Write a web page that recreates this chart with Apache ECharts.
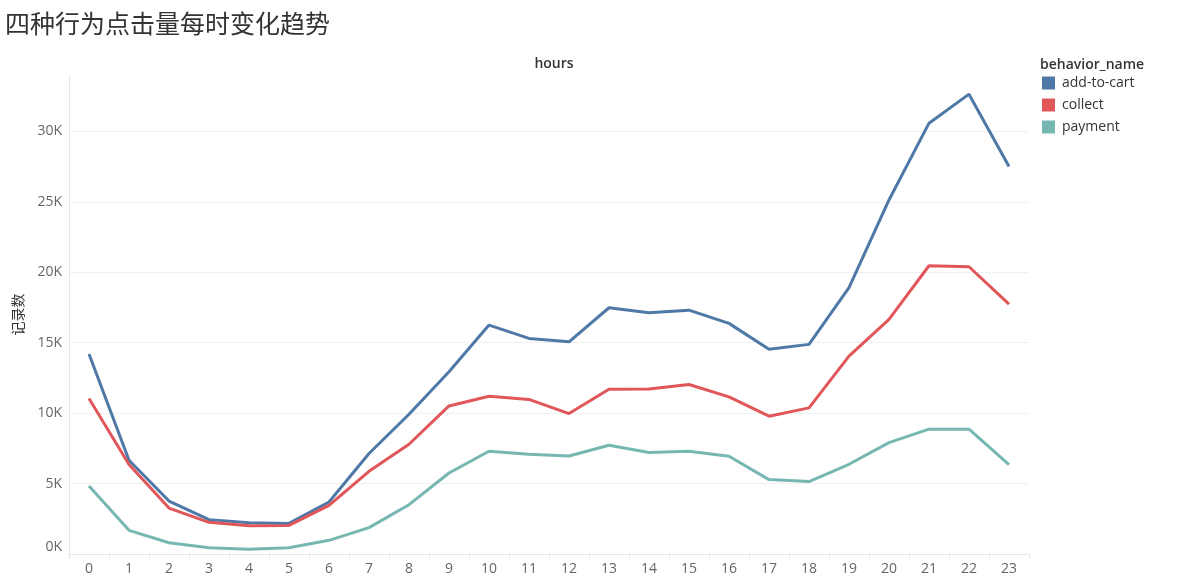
<!DOCTYPE html>
<html>
<head>
<meta charset="utf-8">
<script src="https://cdn.jsdelivr.net/npm/echarts@6/dist/echarts.min.js"></script>
<style>
html,body{margin:0;padding:0;background:#fff;}
#chart{width:1179px;height:579px;}
</style>
</head>
<body>
<div id="chart"></div>
<script>
const hours = ['0','1','2','3','4','5','6','7','8','9','10','11','12','13','14','15','16','17','18','19','20','21','22','23'];
const seriesNames = ['add-to-cart','collect','payment'];
const addToCart = [14190,6650,3760,2440,2220,2170,3690,7130,9920,12930,16250,15300,15060,17480,17120,17310,16370,14540,14880,18900,25130,30580,32640,27500];
const collect = [11040,6350,3260,2250,2010,2030,3450,5870,7790,10510,11200,10970,9970,11700,11720,12030,11150,9780,10370,14040,16650,20460,20390,17740];
const payment = [4830,1680,800,450,330,450,970,1870,3500,5750,7290,7080,6960,7720,7200,7290,6940,5280,5140,6370,7910,8860,8860,6350];
const colors = ['#4e79a7','#e15759','#76b7b2'];
const titleText = '四种行为点击量每时变化趋势';
const xName = 'hours';
const yName = '记录数';
const legendTitle = 'behavior_name';

const chart = echarts.init(document.getElementById('chart'));
const numFont = '"Open Sans", "Noto Sans", sans-serif';
const mk = (name, data, color) => ({
  name: name, type: 'line', data: data, symbol: 'none', smooth: false,
  lineStyle: {width: 3, color: color}, itemStyle: {color: color}, emphasis: {disabled: true}
});
chart.setOption({
  animation: false,
  title: [
    {text: titleText, left: 0, top: 6, textStyle: {fontFamily: '"Noto Sans CJK SC", serif', fontSize: 25, fontWeight: 'normal', color: '#333'}},
    {text: xName, left: 549, textAlign: 'center', top: 52, textStyle: {fontFamily: numFont, fontSize: 14, fontWeight: 600, color: '#333'}},
    {text: legendTitle, left: 1035, top: 53, textStyle: {fontFamily: numFont, fontSize: 14, fontWeight: 600, color: '#333'}}
  ],
  legend: {
    orient: 'vertical', left: 1037, top: 71, itemWidth: 13, itemHeight: 13, itemGap: 8,
    icon: 'rect', data: seriesNames,
    textStyle: {fontFamily: numFont, fontSize: 14, color: '#333', padding: [0,0,0,2]}
  },
  grid: {left: 69, right: 150, top: 75, bottom: 25, containLabel: false},
  xAxis: {
    type: 'category', data: hours, boundaryGap: true,
    axisLine: {show: true, lineStyle: {color: '#e6e6e6', width: 1}},
    axisTick: {show: true, length: 5, lineStyle: {color: '#e6e6e6'}},
    axisLabel: {color: '#666', fontFamily: numFont, fontSize: 14, margin: 8},
    splitLine: {show: false}
  },
  yAxis: {
    type: 'value', min: 0, max: 34000, interval: 5000,
    name: yName, nameLocation: 'middle', nameGap: 44, nameRotate: 90,
    nameTextStyle: {fontFamily: '"Noto Sans CJK SC", serif', fontSize: 14, color: '#333'},
    axisLine: {show: true, lineStyle: {color: '#e6e6e6', width: 1}},
    axisTick: {show: false},
    axisLabel: {
      color: '#666', fontFamily: numFont, fontSize: 14, margin: 7,
      showMaxLabel: false, verticalAlignMinLabel: 'bottom',
      formatter: v => (v % 5000 === 0) ? (v / 1000) + 'K' : ''
    },
    splitLine: {show: true, showMaxLine: false, showMinLine: false, lineStyle: {color: '#f0f0f0', width: 1}}
  },
  series: [
    mk(seriesNames[0], addToCart, colors[0]),
    mk(seriesNames[1], collect, colors[1]),
    mk(seriesNames[2], payment, colors[2])
  ]
});
</script>
</body>
</html>
